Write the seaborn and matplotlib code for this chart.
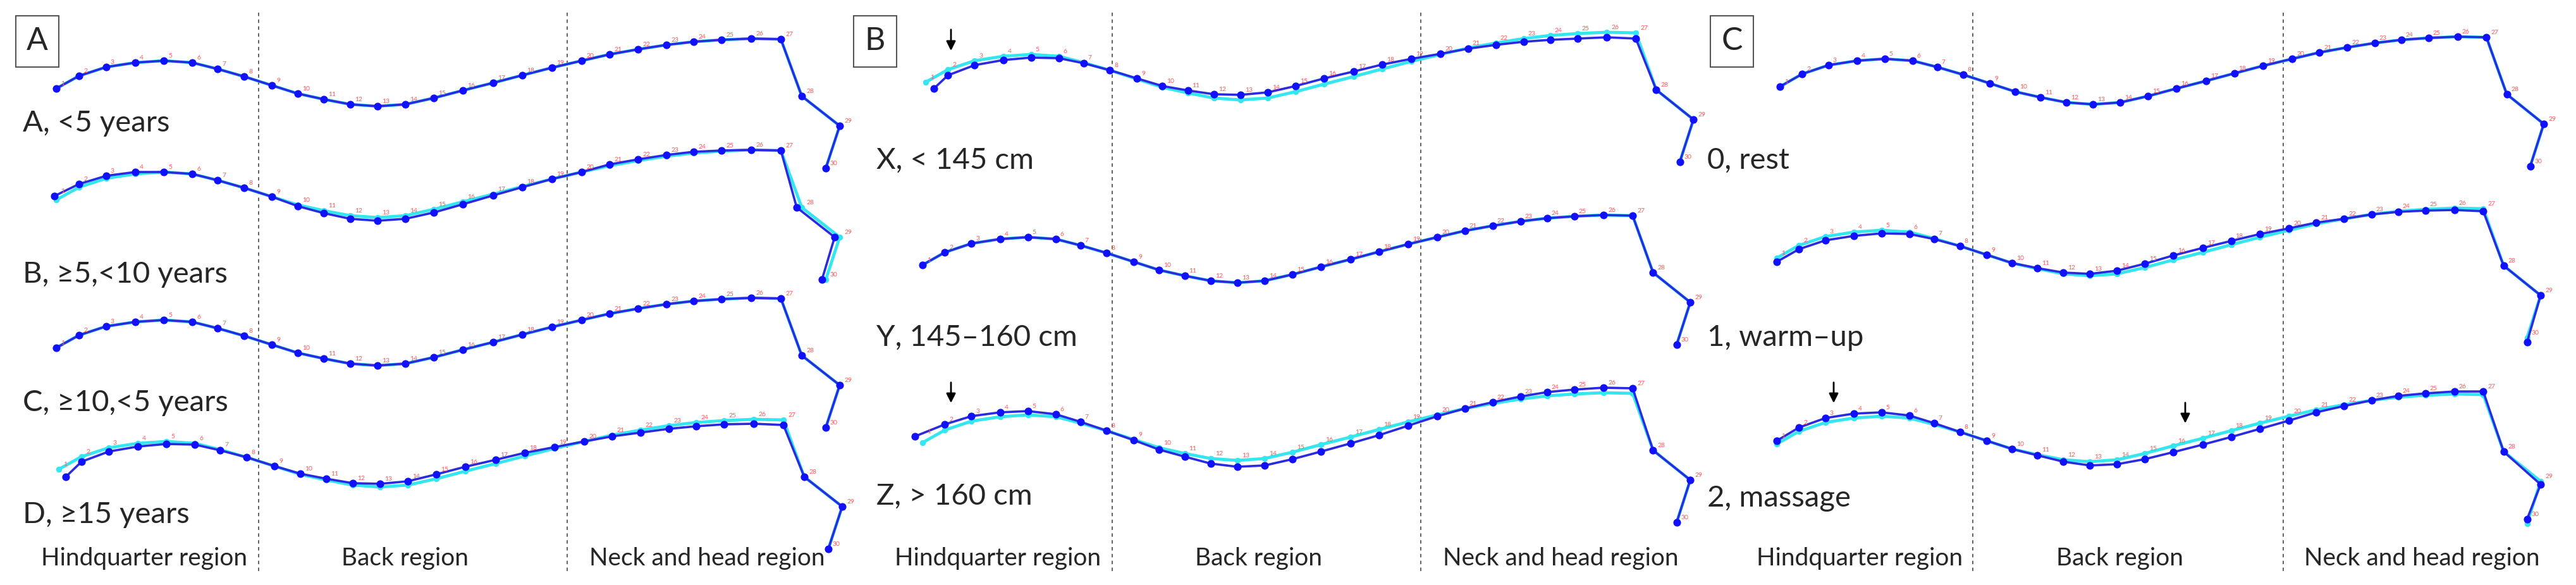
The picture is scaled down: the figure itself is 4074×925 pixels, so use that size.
import matplotlib
matplotlib.use("Agg")
import matplotlib.pyplot as plt
import seaborn as sns
import pandas as pd

sns.set_style("white")
plt.rcParams['font.family'] = ['Lato', 'DejaVu Sans']

# template (cyan, reference) shape: 30 landmarks, px relative to landmark 1
tmpl_dx = [0, 36, 79, 125, 170, 215, 255, 297, 341, 382, 423, 465, 508, 552, 597, 643, 691,
           737, 784, 831, 875, 920, 965, 1008, 1052, 1099, 1146, 1179, 1239, 1217]
tmpl_dy = [0, -20, -34, -41, -44, -41, -31, -19, -5, 8, 17, 25, 28, 25, 15, 3, -9,
           -21, -33, -44, -54, -62, -69, -74, -77, -79, -78, 12, 59, 126]

Z30 = [0] * 30
curve_names = ["A1", "A2", "A3", "A4", "B1", "B2", "B3", "C1", "C2", "C3"]
curve_panel = [0, 0, 0, 0, 1, 1, 1, 2, 2, 2]
panel_xscale = [1.0, 0.98, 0.975]
origin_x = [89, 89, 89, 93, 1464, 1459, 1459, 2815, 2810, 2810]
origin_y = [140, 316, 550, 742, 130, 419, 700, 137, 408, 702]
blue_dy = {
    "A1": Z30,
    "A2": [-6, -5, -4, -3, 0, 0, 0, 0, 0, 2, 4, 5, 5, 5, 5, 4, 2, 1, 0, 0, -2, -2, -2, -2, -1, 0, 0, 0, 0, 0],
    "A3": Z30,
    "A4": [12, 8, 6, 5, 4, 2, 1, 0, 0, -1, -2, -3, -5, -6, -7, -7, -6, -5, -2, 0, 2, 4, 5, 6, 6, 7, 8, 0, 0, 0],
    "B1": [10, 9, 7, 6, 5, 3, 1, 0, -1, -2, -4, -6, -8, -9, -9, -9, -8, -7, -4, -1, 1, 3, 5, 7, 8, 8, 9, 0, 0, 0],
    "B2": Z30,
    "B3": [-10, -9, -8, -7, -6, -4, -2, 0, 1, 3, 5, 8, 10, 11, 11, 11, 10, 9, 6, 2, 0, -2, -4, -6, -7, -8, -8, 0, 0, 0],
    "C1": Z30,
    "C2": [6, 6, 6, 6, 5, 3, 1, 0, 0, 0, -1, -2, -3, -5, -6, -7, -7, -6, -5, -3, -2, 0, 0, 1, 2, 3, 4, 0, 0, 7],
    "C3": [-5, -6, -7, -7, -6, -4, -2, 0, 0, 0, 1, 3, 6, 7, 9, 10, 10, 10, 9, 7, 4, 2, 0, -2, -3, -4, -5, 0, 5, -7],
}
blue_dx1 = {"A2": -3, "A4": 11, "B1": 13, "B3": -12}
blue_dx_head = {"A2": [-8, -8, -6]}

panel_letters = ["A", "B", "C"]
panel_x = [27, 1352, 2707]
group_labels = [["A, <5 years", "B, \u22655,<10 years", "C, \u226510,<5 years", "D, \u226515 years"],
                ["X, < 145 cm", "Y, 145\u2013160 cm", "Z, > 160 cm"],
                ["0, rest", "1, warm\u2013up", "2, massage"]]
group_label_x = [36, 1386, 2700]
group_label_y = [[195, 434, 637, 814], [254, 534, 785], [254, 534, 788]]
region_names = ["Hindquarter region", "Back region", "Neck and head region"]
region_x = [[228, 641, 1118], [1578, 1991, 2468], [2941, 3353, 3830]]
dash_x = [409, 897, 1759, 2247, 3120, 3611]
arrows = [(1504, 44, 83), (1504, 602, 640), (2900, 602, 640), (3456, 634, 672)]

fig = plt.figure(figsize=(40.74, 9.25), dpi=100)
ax = fig.add_axes([0, 0, 1, 1])
ax.set_xlim(0, 4074)
ax.set_ylim(925, 0)
ax.axis("off")

for xd in dash_x:
    ax.plot([xd, xd], [20, 905], ls=(0, (3, 3)), color="#555555", lw=1.3)

for i, name in enumerate(curve_names):
    s = panel_xscale[curve_panel[i]]
    cx = [origin_x[i] + d * s for d in tmpl_dx]
    cy = [origin_y[i] + d for d in tmpl_dy]
    bx = list(cx)
    bx[0] += blue_dx1.get(name, 0)
    if name in blue_dx_head:
        for k, d in enumerate(blue_dx_head[name]):
            bx[27 + k] += d
    by = [c + d for c, d in zip(cy, blue_dy[name])]
    dfc = pd.DataFrame({"x": cx, "y": cy})
    dfb = pd.DataFrame({"x": bx, "y": by})
    sns.lineplot(data=dfc, x="x", y="y", sort=False, estimator=None, ax=ax,
                 color="#33e6f0", lw=3.5, marker="o", markersize=6,
                 markeredgecolor="#33e6f0", zorder=2)
    sns.lineplot(data=dfb, x="x", y="y", sort=False, estimator=None, ax=ax,
                 color="#2a2ae0", lw=2.6, marker="o", markersize=8,
                 markeredgecolor="#1010ff", markerfacecolor="#1010ff", zorder=3)
    for k in range(30):
        ax.text(cx[k] + 7, min(cy[k], by[k]) - 3, str(k + 1), color="#ff5a5a",
                fontsize=7.5, ha="left", va="bottom", zorder=4)

for p in range(3):
    ax.text(panel_x[p] + 32, 65, panel_letters[p], fontsize=36, ha="center", va="center",
            bbox=dict(boxstyle="square,pad=0.35", fc="white", ec="#555555", lw=1.5))
    for lab, ly in zip(group_labels[p], group_label_y[p]):
        ax.text(group_label_x[p], ly, lab, fontsize=34, ha="left", va="center")
    for rn, rx in zip(region_names, region_x[p]):
        ax.text(rx, 883, rn, fontsize=28, ha="center", va="center")

for axx, y0, y1 in arrows:
    ax.annotate("", xy=(axx, y1), xytext=(axx, y0),
                arrowprops=dict(arrowstyle="-|>", color="black", lw=2, mutation_scale=22))

fig.savefig("out.png", dpi=100)
